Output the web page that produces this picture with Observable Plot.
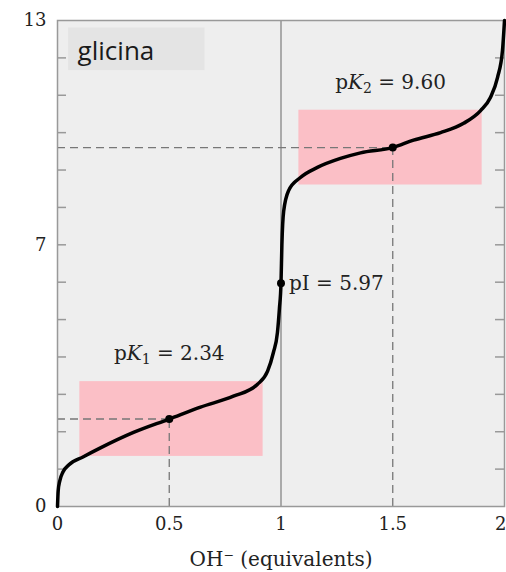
<!DOCTYPE html>
<html><head><meta charset="utf-8">
<script src="https://cdn.jsdelivr.net/npm/d3@7"></script>
<script src="https://cdn.jsdelivr.net/npm/@observablehq/plot@0.6"></script>
<style>
body{margin:0;background:#fff;}
#chart svg{display:block;}
</style>
</head><body><div id="chart"></div>
<script>
// Titration curve of glycine
const equivalents = [0, 0.003, 0.01, 0.025, 0.05, 0.116, 0.19, 0.34, 0.5, 0.64, 0.787, 0.895, 0.94, 0.966, 0.984, 0.993, 1.0, 1.004, 1.012, 1.034, 1.087, 1.163, 1.266, 1.356, 1.5, 1.593, 1.714, 1.817, 1.893, 1.937, 1.969, 1.991, 2.0];
const pH = [0, 0.42, 0.68, 0.93, 1.11, 1.33, 1.56, 1.98, 2.34, 2.66, 2.95, 3.27, 3.62, 4.12, 4.65, 5.3, 5.97, 7.0, 7.9, 8.45, 8.8, 9.07, 9.31, 9.46, 9.6, 9.8, 10.0, 10.25, 10.59, 10.94, 11.48, 12.2, 13.0];

const xTicks = [0, 0.5, 1, 1.5, 2];
const yTickLabels = [0, 7, 13];
const yMinorTicks = [1, 2, 3, 4, 5, 6, 7, 8, 9, 10, 11, 12];

// marked points: pK1, pI, pK2
const pointX = [0.5, 1.0, 1.5];
const pointY = [2.34, 5.97, 9.60];
const pointDashed = [true, false, true];

// buffer regions (pK ± 1)
const bufferX1 = [0.1, 1.08];
const bufferX2 = [0.92, 1.9];
const bufferY1 = [1.34, 8.6];
const bufferY2 = [3.34, 10.6];

// annotations
const pkLabelText = ["pK1 = 2.34", "pK2 = 9.60"];
const pkLabelX = [0.5, 1.49];
const pkLabelY = [4.09, 11.34];
const piLabelText = "pI = 5.97";
const piLabelX = 1.0;
const piLabelY = 5.97;
const titleText = "glicina";
const titleBox = {x1: 0.05, x2: 0.66, y1: 11.66, y2: 12.8};
const titlePos = {x: 0.09, y: 12.17};

const curve = equivalents.map((x, i) => ({x, y: pH[i]}));
const points = pointX.map((x, i) => ({x, y: pointY[i], dashed: pointDashed[i]}));
const dashed = points.filter(d => d.dashed);
const buffers = bufferX1.map((x1, i) => ({x1, x2: bufferX2[i], y1: bufferY1[i], y2: bufferY2[i]}));
const pkLabels = pkLabelText.map((t, i) => ({t, x: pkLabelX[i], y: pkLabelY[i]}));
const piLabel = [{t: piLabelText, x: piLabelX, y: piLabelY}];

const W = 506, H = 572, mL = 57, mR = 2, mT = 20, mB = 66;
const innerW = W - mL - mR;
const tickLen = 9;

const chart = Plot.plot({
  width: W, height: H,
  marginLeft: mL, marginRight: mR, marginTop: mT, marginBottom: mB,
  style: {fontFamily: "DejaVu Serif", fontSize: "18px", color: "#222", background: "#fff"},
  x: {domain: [0, 2], ticks: xTicks, tickFormat: d => String(d), tickSize: 0, tickPadding: 11, label: "OH\u207B (equivalents)", labelAnchor: "center", labelArrow: "none", labelOffset: 59},
  y: {domain: [0, 13], ticks: yTickLabels, tickFormat: d => String(d), tickSize: 0, tickPadding: 11, label: null},
  marks: [
    Plot.frame({fill: "#eeeeee", stroke: null}),
    Plot.rect([titleBox], {x1: "x1", x2: "x2", y1: "y1", y2: "y2", fill: "#e4e4e4"}),
    Plot.rect(buffers, {x1: "x1", x2: "x2", y1: "y1", y2: "y2", fill: "#fbbfc6"}),
    Plot.ruleX([1], {stroke: "#666", strokeWidth: 1}),
    Plot.ruleX(dashed, {x: "x", y1: 0, y2: "y", stroke: "#777", strokeWidth: 1.3, strokeDasharray: "8,5"}),
    Plot.ruleY(dashed, {y: "y", x1: 0, x2: "x", stroke: "#777", strokeWidth: 1.3, strokeDasharray: "8,5"}),
    Plot.ruleY(yMinorTicks, {y: d => d, insetRight: innerW - tickLen, stroke: "#999", strokeWidth: 1.5}),
    Plot.ruleY(yMinorTicks, {y: d => d, insetLeft: innerW - tickLen, stroke: "#999", strokeWidth: 1.5}),
    Plot.frame({stroke: "#999", strokeWidth: 1.5}),
    Plot.line(curve, {x: "x", y: "y", curve: "monotone-x", stroke: "#000", strokeWidth: 3.5}),
    Plot.dot(points, {x: "x", y: "y", r: 4, fill: "#000"}),
    Plot.text(pkLabels, {x: "x", y: "y", text: "t", textAnchor: "middle", fontSize: 20, fill: "#222"}),
    Plot.text(piLabel, {x: "x", y: "y", text: "t", textAnchor: "start", dx: 8, fontSize: 20, fill: "#222"}),
    Plot.text([titlePos], {x: "x", y: "y", text: () => titleText, textAnchor: "start", fontFamily: "Open Sans", fontSize: 26, fill: "#1a1a1a"})
  ]
});

const ns = "http://www.w3.org/2000/svg";
chart.querySelectorAll("text").forEach(t => {
  const m = /^pK(\d) = (.*)$/.exec(t.textContent);
  if (m) {
    t.textContent = "";
    const a = document.createElementNS(ns, "tspan"); a.textContent = "p"; t.appendChild(a);
    const b = document.createElementNS(ns, "tspan"); b.textContent = "K"; b.setAttribute("font-style", "italic"); t.appendChild(b);
    const c = document.createElementNS(ns, "tspan"); c.textContent = m[1]; c.setAttribute("font-size", "0.7em"); c.setAttribute("dy", "0.3em"); t.appendChild(c);
    const d = document.createElementNS(ns, "tspan"); d.textContent = " = " + m[2]; d.setAttribute("dy", "-0.21em"); t.appendChild(d);
  }
});
// x-axis label a little larger, as in the reference
chart.querySelectorAll('g[aria-label="x-axis label"] text').forEach(t => t.setAttribute("font-size", "20"));
// keep the last x tick label inside the picture
const xTickTexts = chart.querySelectorAll('g[aria-label="x-axis tick label"] text');
if (xTickTexts.length) {
  const last = xTickTexts[xTickTexts.length - 1];
  last.setAttribute("text-anchor", "end");
  last.setAttribute("dx", "2");
}
document.getElementById("chart").appendChild(chart);
</script>
</body></html>
